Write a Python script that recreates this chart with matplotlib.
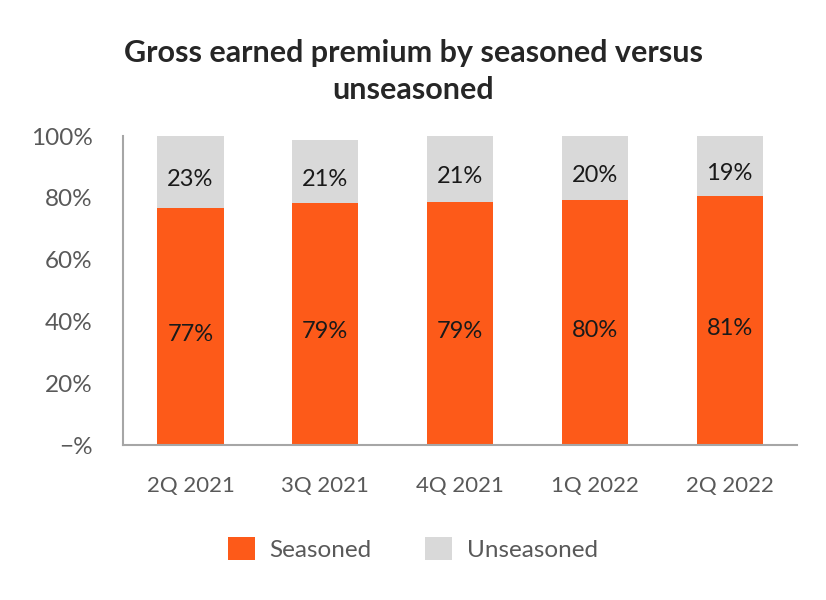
import numpy as np
import matplotlib.pyplot as plt

# Data
quarters = ['2Q 2021', '3Q 2021', '4Q 2021', '1Q 2022', '2Q 2022']
seasoned = np.array([76.7, 78.3, 78.7, 79.4, 80.7])
unseasoned = np.array([23.3, 20.5, 21.3, 20.6, 19.3])
seasoned_labels = ['77%', '79%', '79%', '80%', '81%']
unseasoned_labels = ['23%', '21%', '21%', '20%', '19%']
yticks = [0, 20, 40, 60, 80, 100]
ytick_labels = ['\u2212%', '20%', '40%', '60%', '80%', '100%']

orange = '#FD5A19'
grey = '#D9D9D9'
text_grey = '#595959'

plt.rcParams['font.family'] = ['Lato', 'DejaVu Sans']

fig = plt.figure(figsize=(8.26, 6), dpi=100)
ax = fig.add_axes([0.149, 0.258, 0.816, 0.515])

x = np.arange(len(quarters))
b1 = ax.bar(x, seasoned, width=0.49, color=orange, label='Seasoned')
b2 = ax.bar(x, unseasoned, width=0.49, bottom=seasoned, color=grey, label='Unseasoned')

for i in range(len(quarters)):
    ax.text(x[i], seasoned[i] / 2 - 2.5, seasoned_labels[i], ha='center', va='center',
            fontsize=17, color='#1a1a1a')
    ax.text(x[i], seasoned[i] + unseasoned[i] / 2 - 2.5, unseasoned_labels[i], ha='center',
            va='center', fontsize=17, color='#1a1a1a')

ax.set_xlim(-0.5, 4.5)
ax.set_ylim(0, 100)
ax.set_yticks(yticks)
ax.set_yticklabels(ytick_labels)
ax.set_xticks(x)
ax.set_xticklabels(quarters)
ax.tick_params(axis='y', length=0, pad=22, labelsize=17.5, labelcolor=text_grey)
ax.tick_params(axis='x', length=0, pad=22, labelsize=16, labelcolor=text_grey)

for s in ['top', 'right']:
    ax.spines[s].set_visible(False)
for s in ['left', 'bottom']:
    ax.spines[s].set_color('#a6a6a6')
    ax.spines[s].set_linewidth(1.5)

fig.suptitle('Gross earned premium by seasoned versus\nunseasoned', x=0.5, y=0.935,
             fontsize=22, fontweight='bold', color='#262626', linespacing=1.4)

fig.legend(handles=[b1, b2], loc='center', bbox_to_anchor=(0.5, 0.085), ncol=2,
           frameon=False, fontsize=17.5, handlelength=1.1, handleheight=1.1,
           handletextpad=0.6, columnspacing=2.2, labelcolor=text_grey)

fig.savefig('out.png', dpi=100)
